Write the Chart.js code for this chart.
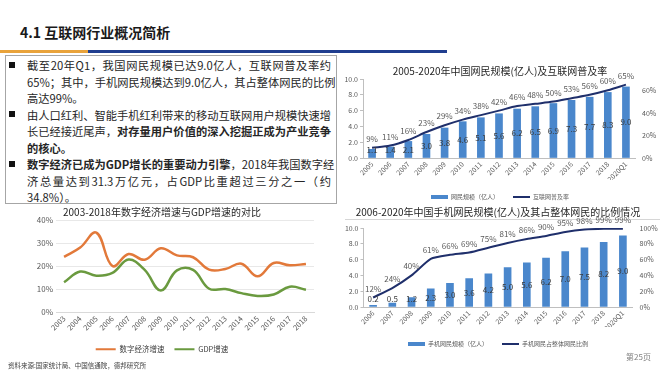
<!DOCTYPE html>
<html>
<head>
<meta charset="utf-8">
<script src="https://cdn.jsdelivr.net/npm/chart.js@4"></script>
<style>
  body { margin:0; width:660px; height:372px; background:#fff; position:relative; overflow:hidden;
         font-family:"Noto Sans CJK SC","Noto Sans",sans-serif; color:#262626; }
  .abs { position:absolute; }
  #head { left:20px; top:22px; font-size:14px; font-weight:bold; line-height:20px; color:#1a1a1a; }
  #barO { left:0; top:50px; width:88px; height:3px; background:#E9A33B; }
  #barB { left:88px; top:50px; width:359px; height:3px; background:#203E8F; }
  #box { left:5px; top:55px; width:332px; height:149px; border:1px solid #a6a6a6; box-sizing:border-box; }
  #txt { left:27px; top:57px; width:304px; font-size:11.25px; line-height:16.5px; }
  #txt div { white-space:nowrap; }
  #txt .j { text-align:justify; text-align-last:justify; }
  .bul { width:6px; height:6px; background:#111; left:9px; }
  #src { left:8px; top:360px; font-size:6.5px; color:#404040; }
  #page { left:626px; top:351px; font-size:8px; color:#808080; }
  #rule { left:345px; top:219px; width:315px; height:1px; background:#d6d6d6; }
  canvas { position:absolute; }
</style>
</head>
<body>
<div class="abs" id="head">4.1 互联网行业概况简析</div>
<div class="abs" id="barO"></div>
<div class="abs" id="barB"></div>
<div class="abs" id="box"></div>
<div class="abs bul" style="top:62px"></div>
<div class="abs bul" style="top:111px"></div>
<div class="abs bul" style="top:161px"></div>
<div class="abs" id="txt">
  <div class="j">截至20年Q1，我国网民规模已达9.0亿人，互联网普及率约</div>
  <div class="j">65%；其中，手机网民规模达到9.0亿人，其占整体网民的比例</div>
  <div>高达99%。</div>
  <div class="j">由人口红利、智能手机红利带来的移动互联网用户规模快速增</div>
  <div class="j">长已经接近尾声，<b>对存量用户价值的深入挖掘正成为产业竞争</b></div>
  <div><b>的核心。</b></div>
  <div class="j"><b>数字经济已成为GDP增长的重要动力引擎</b>，2018年我国数字经</div>
  <div class="j">济总量达到31.3万亿元，占GDP比重超过三分之一（约</div>
  <div>34.8%）。</div>
</div>
<div class="abs" id="rule"></div>
<canvas id="chartA" width="328" height="160" style="left:10px;top:203px"></canvas>
<canvas id="chartB" width="320" height="152" style="left:340px;top:58px"></canvas>
<canvas id="chartC" width="324" height="154" style="left:336px;top:203px"></canvas>
<div class="abs" id="src">资料来源:国家统计局、中国信通院，德邦研究所</div>
<div class="abs" id="page">第25页</div>

<script>
// left chart: growth of digital economy vs GDP (%)
const yearsA = ['2003','2004','2005','2006','2007','2008','2009','2010','2011','2012','2013','2014','2015','2016','2017','2018'];
const digitalGrowth = [24, 28, 34.5, 20, 25.2, 22.7, 27.7, 24.6, 23.8, 18.4, 18.7, 21, 15.5, 21.3, 20.3, 20.9];
const gdpGrowth = [12.9, 17.6, 15.8, 17, 22.8, 18.3, 9.3, 18.1, 18.3, 10.1, 10, 8.2, 7, 7.6, 11, 9.7];

// top right: netizens (100m) and penetration rate (%)
const yearsB = ['2005','2006','2007','2008','2009','2010','2011','2012','2013','2014','2015','2016','2017','2018','2020Q1'];
const netizens = [1.1, 1.4, 2.1, 3.0, 3.8, 4.6, 5.1, 5.6, 6.2, 6.5, 6.9, 7.3, 7.7, 8.3, 9.0];
const penetration = [9, 11, 16, 23, 29, 34, 38, 42, 46, 48, 50, 53, 56, 60, 65];

// bottom right: mobile netizens (100m) and share of all netizens (%)
const yearsC = ['2006','2007','2008','2009','2010','2011','2012','2013','2014','2015','2016','2017','2018','2020Q1'];
const mobileNetizens = [0.2, 0.5, 1.2, 2.3, 3.0, 3.6, 4.2, 5.0, 5.6, 6.2, 7.0, 7.5, 8.2, 9.0];
const mobileShare = [12, 24, 40, 61, 66, 69, 75, 81, 86, 90, 95, 98, 99, 99];

const FONT = '"Noto Sans CJK SC","Noto Sans",sans-serif';
Chart.defaults.font.family = FONT;
Chart.defaults.color = '#595959';
Chart.defaults.animation = false;

const BAR_BLUE = '#4A87CC';
const NAVY = '#1F2F6B';

// numbers on bars and above line points
const dataLabels = {
  id: 'dataLabels',
  afterDatasetsDraw(chart) {
    const ctx = chart.ctx;
    ctx.save();
    ctx.textAlign = 'center';
    ctx.textBaseline = 'middle';
    ctx.font = '8px ' + FONT;
    chart.data.datasets.forEach((ds, i) => {
      if (!ds.showLabels) return;
      const meta = chart.getDatasetMeta(i);
      meta.data.forEach((el, j) => {
        const v = ds.data[j];
        if (ds.type === 'bar') {
          ctx.fillStyle = '#3a3a3a';
          ctx.fillText(v.toFixed(1), el.x, Math.min((el.y + el.base) / 2, el.base - 8));
        } else {
          ctx.fillStyle = '#595959';
          ctx.fillText(v + '%', el.x, el.y - 9);
        }
      });
    });
    ctx.restore();
  }
};

function legendItems(chart) {
  const items = Chart.defaults.plugins.legend.labels.generateLabels(chart);
  items.sort((a, b) => a.datasetIndex - b.datasetIndex);
  items.forEach(it => {
    const ds = chart.data.datasets[it.datasetIndex];
    if (ds.type === 'bar') {
      it.pointStyle = 'rect'; it.lineWidth = 0; it.fillStyle = ds.backgroundColor;
    } else {
      it.pointStyle = 'line'; it.lineWidth = 2; it.strokeStyle = ds.borderColor;
    }
  });
  return items;
}

new Chart(document.getElementById('chartA'), {
  type: 'line',
  data: {
    labels: yearsA,
    datasets: [
      { type: 'line', label: '数字经济增速', data: digitalGrowth, borderColor: '#E2793A', backgroundColor: '#E2793A',
        borderWidth: 2.5, pointRadius: 0, tension: 0.4 },
      { type: 'line', label: 'GDP增速', data: gdpGrowth, borderColor: '#6A9A3F', backgroundColor: '#6A9A3F',
        borderWidth: 2.5, pointRadius: 0, tension: 0.4 }
    ]
  },
  options: {
    responsive: false,
    layout: { padding: { left: 0, right: 24, top: 0, bottom: 0 } },
    plugins: {
      title: { display: true, text: '2003-2018年数字经济增速与GDP增速的对比', color: '#262626',
               font: { size: 10, weight: 'normal' }, padding: { top: 3, bottom: 2 } },
      legend: { position: 'bottom',
                labels: { usePointStyle: true, pointStyleWidth: 20, boxHeight: 7.5, padding: 10,
                          font: { size: 7.5 }, color: '#404040', generateLabels: legendItems } },
      tooltip: { enabled: false }
    },
    scales: {
      x: { offset: true, grid: { display: false, drawTicks: false }, border: { color: '#d9d9d9' },
           ticks: { autoSkip: false, minRotation: 45, maxRotation: 45, font: { size: 7.5 }, padding: 2 },
           afterFit(s) { s.height = 23.5; } },
      y: { min: 0, max: 40, ticks: { stepSize: 10, callback: v => v + '%', font: { size: 8 } },
           grid: { color: '#e8e8e8', drawTicks: false }, border: { display: false },
           afterFit(s) { s.width = 46; } }
    }
  }
});

function comboOptions(title, pad, yWidth, y1Width, xHeight, y1Max) {
  return {
    responsive: false,
    layout: { padding: 0 },
    plugins: {
      title: { display: true, text: title, color: '#262626', font: { size: 10, weight: 'normal' }, padding: pad },
      legend: { position: 'bottom',
                labels: { usePointStyle: true, pointStyleWidth: 17, boxHeight: 4, padding: 14,
                          font: { size: 6 }, color: '#595959', generateLabels: legendItems } },
      tooltip: { enabled: false }
    },
    scales: {
      x: { grid: { display: false, drawTicks: false }, border: { color: '#bfbfbf' },
           ticks: { autoSkip: false, minRotation: 45, maxRotation: 45, font: { size: 7 }, padding: 2 },
           afterFit(s) { s.height = xHeight; } },
      y: { position: 'left', min: 0, max: 10,
           ticks: { stepSize: 1, callback: v => v.toFixed(1), font: { size: 7 }, padding: 2 },
           grid: { drawOnChartArea: false, tickLength: 3, color: '#bfbfbf' }, border: { color: '#bfbfbf' },
           afterFit(s) { s.width = yWidth; } },
      y1: { position: 'right', min: 0, max: y1Max,
            ticks: { stepSize: 10, callback: v => v + '%', font: { size: 7 }, padding: 7 },
            grid: { display: false, drawTicks: false }, border: { display: false },
            afterFit(s) { s.width = y1Width; } }
    }
  };
}

new Chart(document.getElementById('chartB'), {
  data: {
    labels: yearsB,
    datasets: [
      { type: 'bar', label: '网民规模（亿人）', data: netizens, backgroundColor: BAR_BLUE, yAxisID: 'y',
        barThickness: 7, order: 1, showLabels: true },
      { type: 'line', label: '互联网普及率', data: penetration, borderColor: NAVY, backgroundColor: NAVY,
        borderWidth: 2, pointRadius: 0, tension: 0.3, yAxisID: 'y1', order: 0, showLabels: true }
    ]
  },
  options: comboOptions('2005-2020年中国网民规模(亿人)及互联网普及率', { top: 7, bottom: 2 }, 23, 25, 22, 70),
  plugins: [dataLabels]
});

new Chart(document.getElementById('chartC'), {
  data: {
    labels: yearsC,
    datasets: [
      { type: 'bar', label: '手机网民规模（亿人）', data: mobileNetizens, backgroundColor: BAR_BLUE, yAxisID: 'y',
        barThickness: 7, order: 1, showLabels: true },
      { type: 'line', label: '手机网民占整体网民比例', data: mobileShare, borderColor: NAVY, backgroundColor: NAVY,
        borderWidth: 2, pointRadius: 0, tension: 0.2, yAxisID: 'y1', order: 0, showLabels: true }
    ]
  },
  options: comboOptions('2006-2020年中国手机网民规模(亿人)及其占整体网民的比例情况', { top: 3, bottom: 10 }, 27.5, 27.5, 20, 100),
  plugins: [dataLabels]
});
</script>
</body>
</html>
